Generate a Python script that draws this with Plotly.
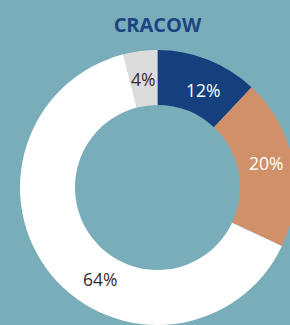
import plotly.graph_objects as go

categories = ["A", "B", "C", "D"]
values = [12, 20, 64, 4]
colors = ["#153f7d", "#cf906a", "#ffffff", "#dcdcdc"]
text_colors = ["#ffffff", "#ffffff", "#3a2a2a", "#3a2a2a"]
title_text = "CRACOW"

# label placement in pixels (styling only)
label_px = [(203, 90), (266, 163), (100, 279), (143, 79)]

total = sum(values)
labels_txt = [f"{round(v / total * 100)}%" for v in values]

W, H = 295, 325
L, T = 20, 50
pw, ph = W - L, H - T

fig = go.Figure(go.Pie(
    labels=categories,
    values=values,
    hole=0.6,
    sort=False,
    direction="clockwise",
    rotation=0,
    marker=dict(colors=colors, line=dict(width=0)),
    textinfo="none",
    showlegend=False,
    hoverinfo="label+percent",
))

for txt, col, (px, py) in zip(labels_txt, text_colors, label_px):
    fig.add_annotation(
        text=txt,
        x=(px - L) / pw, y=1 - (py - T) / ph,
        xref="paper", yref="paper", xanchor="center", yanchor="middle",
        showarrow=False, font=dict(family="Open Sans", size=17.5, color=col),
    )

fig.update_layout(
    width=W, height=H,
    margin=dict(l=L, r=0, t=T, b=0),
    paper_bgcolor="#79adb9",
    plot_bgcolor="#79adb9",
    title=dict(text="<b>" + title_text + "</b>", x=157.5 / W, xanchor="center",
               y=1 - 25 / H, yanchor="middle", yref="container",
               font=dict(family="Open Sans", size=20, color="#1b4582")),
)

fig.write_html(
    "out.html",
    config={"displayModeBar": False},
    post_script="document.body.style.margin='0';document.body.style.overflow='hidden';document.documentElement.style.overflow='hidden';",
)
